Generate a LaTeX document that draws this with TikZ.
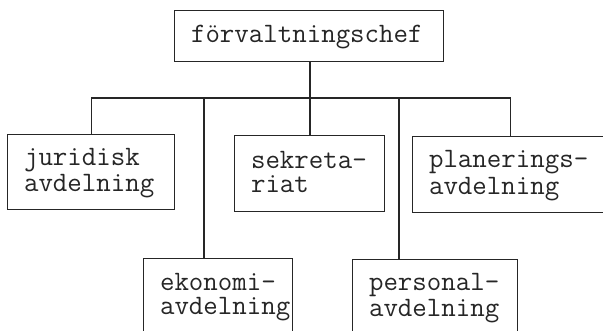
\documentclass[tikz,border=0pt]{standalone}
\usepackage{fontspec}
\newcommand\lnstrut{\rule[-5pt]{0pt}{24pt}}
\newcommand\boxline[1]{\lnstrut\makebox[0pt][l]{#1}}
\tikzset{
  orgbox/.style={draw=black!85, line width=1.1pt, anchor=north west,
    inner xsep=16.5pt, inner ysep=0pt, align=left,
    font=\ttfamily\fontsize{28.1}{24}\selectfont, text=black!85},
  conn/.style={draw=black!85, line width=1.1pt}
}
\begin{document}
\begin{tikzpicture}[x=1pt,y=-1pt]
\useasboundingbox (0,0) rectangle (603,330);
\clip (0,0) rectangle (603,330);
\fill[white] (0,0) rectangle (603,330);
% boxes
\node[orgbox, text width=236pt, minimum height=51pt] (chef) at (174,10)
  {\boxline{förvaltningschef}};
\node[orgbox, text width=134pt, minimum height=75pt] (jur) at (7,134)
  {\boxline{juridisk}\\\boxline{avdelning}};
\node[orgbox, text width=117pt, minimum height=76pt] (sek) at (234,135)
  {\boxline{sekreta-}\\\boxline{riat}};
\node[orgbox, text width=163pt, minimum height=76pt] (plan) at (412,136)
  {\boxline{planerings-}\\\boxline{avdelning}};
\node[orgbox, text width=116pt, minimum height=75pt] (eko) at (143,258)
  {\boxline{ekonomi-}\\\boxline{avdelning}};
\node[orgbox, text width=132pt, minimum height=75pt] (pers) at (352,259)
  {\boxline{personal-}\\\boxline{avdelning}};
% bus coordinates
\coordinate (busy) at (310,98);
\coordinate (ekotap) at (204,98);
\coordinate (perstap) at (399,98);
% connectors
\draw[conn] (chef.south -| busy) -- (busy);
\draw[conn] (jur.north |- busy) -- (plan.north |- busy);
\draw[conn] (jur.north |- busy) -- (jur.north);
\draw[conn] (busy) -- (busy |- sek.north);
\draw[conn] (plan.north |- busy) -- (plan.north);
\draw[conn] (ekotap) -- (ekotap |- eko.north);
\draw[conn] (perstap) -- (perstap |- pers.north);
\end{tikzpicture}
\end{document}
